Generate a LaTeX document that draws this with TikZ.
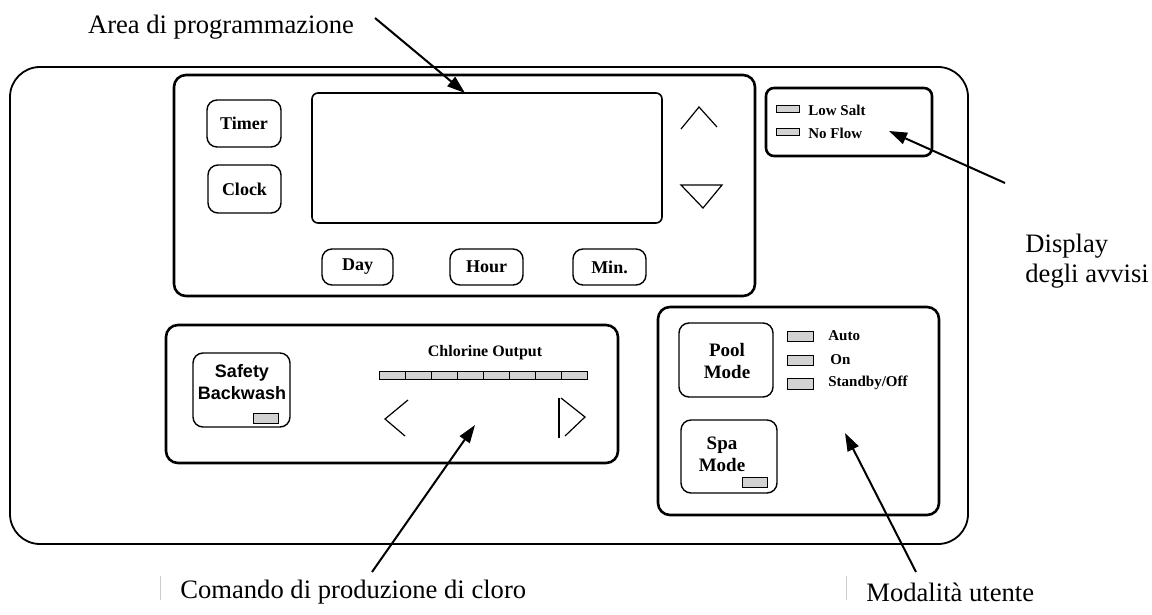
\documentclass[tikz,border=0pt]{standalone}
\usepackage{fontspec}
\setmainfont{Liberation Serif}
\setsansfont{Liberation Sans}
\usetikzlibrary{arrows.meta,positioning}

\tikzset{
  panel/.style={draw, line width=1.3pt, rounded corners=6pt},
  key/.style={draw, line width=0.7pt, rounded corners=5pt, inner sep=0pt},
  led/.style={draw, line width=0.5pt, fill=gray!35},
  keytext/.style={font=\fontsize{9}{10}\selectfont\bfseries, inner sep=0pt},
  ledtext/.style={font=\fontsize{7.5}{8}\selectfont\bfseries, inner sep=0pt, anchor=west},
  callout/.style={font=\fontsize{13.3}{15}\selectfont, inner sep=0pt},
  pointer/.style={line width=1pt, -{Triangle[length=9pt,width=6pt]}},
  thin/.style={line width=0.6pt}
}

\begin{document}
\begin{tikzpicture}[x=0.5pt, y=-0.5pt]
  \useasboundingbox (0,0) rectangle (1152,615);

  % outer frame and panels
  \draw[line width=0.9pt, rounded corners=15pt] (10,67) rectangle (968,544);
  \draw[panel] (174,75) rectangle (755,296);
  \draw[panel, rounded corners=4pt] (766,88) rectangle (932,156);
  \draw[panel] (166,325) rectangle (618,463);
  \draw[panel] (658,307) rectangle (939,515);

  % programming area
  \draw[line width=0.8pt, rounded corners=3pt] (312,93) rectangle (662,223);
  \node[key, minimum width=37pt, minimum height=23.5pt] (timer) at (244,123.5) {};
  \node[keytext] (timer text) at (timer) {Timer};
  \node[key, minimum width=36.5pt, minimum height=24pt] (clock) at (244.5,189) {};
  \node[keytext] (clock text) at (clock) {Clock};
  \node[key, minimum width=35.5pt, minimum height=18pt] (day) at (357.5,267) {};
  \node[keytext] (day text) at (day) {Day};
  \node[key, minimum width=36.5pt, minimum height=18pt] (hour) at (486.5,267) {};
  \node[keytext] (hour text) at (hour) {Hour};
  \node[key, minimum width=36.5pt, minimum height=18pt] (min) at (609.5,267) {};
  \node[keytext] (min text) at (min) {Min.};
  \draw[thin] (681,129) -- (699,107) -- (717,127);
  \draw[thin] (681,185) -- (722,185) -- (703,208) -- cycle;

  % warnings
  \draw[led] (776,106) rectangle (799,113);
  \node[ledtext] (low salt) at (808,110) {Low Salt};
  \draw[led] (776,129) rectangle (799,136);
  \node[ledtext] (no flow) at (808,133) {No Flow};

  % chlorine output
  \node[key, minimum width=48.5pt, minimum height=37pt] (backwash) at (241.5,390) {};
  \node[keytext, font=\fontsize{9}{11}\selectfont\sffamily\bfseries, align=center]
    (backwash text) at (242,382) {Safety\\Backwash};
  \draw[led] (253,413) rectangle (278,423);
  \node[keytext, font=\fontsize{8}{9}\selectfont\bfseries] (output text) at (485,353) {Chlorine Output};
  \foreach \i in {0,...,7}
    \draw[led] ({379+\i*26.1},371) rectangle ({379+(\i+1)*26.1},379);
  \draw[thin] (408,400) -- (385,419) -- (405,436);
  \draw[thin] (559,398) -- (559,438);
  \draw[thin] (561,398) -- (585,417) -- (565,436);

  % modes
  \node[key, minimum width=47pt, minimum height=37pt] (pool) at (726,360) {};
  \node[keytext, font=\fontsize{9.5}{11}\selectfont\bfseries, align=center]
    (pool text) at (727,361) {Pool\\Mode};
  \draw[led] (787,331) rectangle (813,341);
  \node[ledtext] (auto) at (828,336) {Auto};
  \draw[led] (787,355) rectangle (813,365);
  \node[ledtext] (on) at (830,360) {On};
  \draw[led] (787,378) rectangle (813,389);
  \node[ledtext] (standby) at (828,383) {Standby/Off};
  \node[key, minimum width=48pt, minimum height=36.5pt] (spa) at (729,456.5) {};
  \node[keytext, font=\fontsize{9.5}{11}\selectfont\bfseries, align=center]
    (spa text) at (722,454) {Spa\\Mode};
  \draw[led] (742,477) rectangle (767,487);

  % callouts
  \coordinate (prog tip) at (465,93);
  \coordinate (warn tip) at (889,131);
  \coordinate (chlor tip) at (475,425);
  \coordinate (mode tip) at (845,433);
  \node[callout] (prog) at (221,27) {Area di programmazione};
  \node[callout, anchor=west, align=left] (warn) at (1025,261) {Display\\degli avvisi};
  \node[callout, anchor=west] (chlor) at (180,592) {Comando di produzione di cloro};
  \node[callout, anchor=west] (mode) at (866,592) {Modalità utente};
  \coordinate (prog end) at (375,18);
  \coordinate (warn end) at (1005,183);
  \coordinate (chlor end) at (372,572);
  \coordinate (mode end) at (916,572);
  \draw[pointer] (prog end) -- (prog tip);
  \draw[pointer] (warn end) -- (warn tip);
  \draw[pointer] (chlor end) -- (chlor tip);
  \draw[pointer] (mode end) -- (mode tip);
  \draw[gray!40, line width=0.5pt] (160,576) -- (160,600);
  \draw[gray!40, line width=0.5pt] (846,576) -- (846,600);
\end{tikzpicture}
\end{document}
